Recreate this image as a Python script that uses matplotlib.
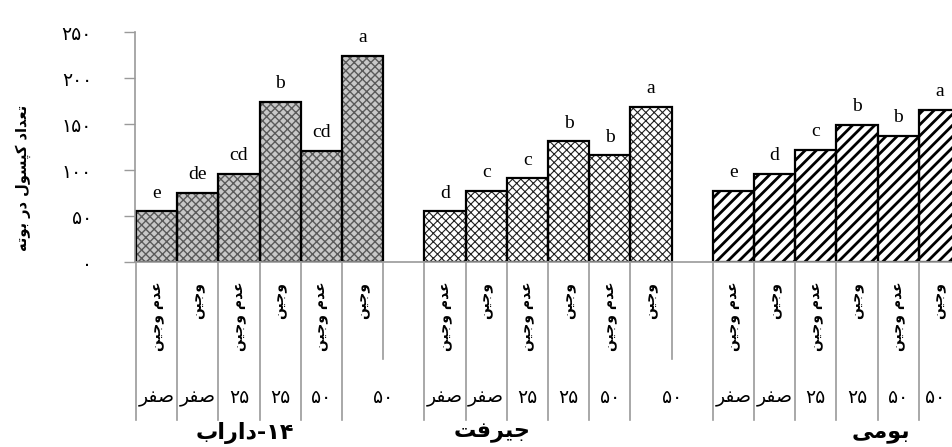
import matplotlib
matplotlib.use("Agg")
import matplotlib.pyplot as plt

# data
cultivars = ["داراب", "جیرفت", "بومی"]
weed_labels = ["عدم وجین", "وجین"] * 3
nitrogen = ["صفر", "صفر", "۲۵", "۲۵", "۵۰", "۵۰"]
darab = [55, 75, 96, 174, 121, 224]
jiroft = [55, 77, 91, 131, 116, 169]
bumi = [77, 96, 122, 149, 137, 165]
letters_darab = ["e", "de", "cd", "b", "cd", "a"]
letters_jiroft = ["d", "c", "c", "b", "b", "a"]
letters_bumi = ["e", "d", "c", "b", "b", "a"]
yticks = [0, 50, 100, 150, 200, 250]
ylabel = "تعداد کپسول در بوته"

# matplotlib has no arabic shaping, so pick presentation forms by hand
FORMS = {
    "ا": ("\uFE8D", "\uFE8E", None, None),
    "ب": ("\uFE8F", "\uFE90", "\uFE91", "\uFE92"),
    "پ": ("\uFB56", "\uFB57", "\uFB58", "\uFB59"),
    "ت": ("\uFE95", "\uFE96", "\uFE97", "\uFE98"),
    "ج": ("\uFE9D", "\uFE9E", "\uFE9F", "\uFEA0"),
    "د": ("\uFEA9", "\uFEAA", None, None),
    "ر": ("\uFEAD", "\uFEAE", None, None),
    "ز": ("\uFEAF", "\uFEB0", None, None),
    "س": ("\uFEB1", "\uFEB2", "\uFEB3", "\uFEB4"),
    "ص": ("\uFEB9", "\uFEBA", "\uFEBB", "\uFEBC"),
    "ع": ("\uFEC9", "\uFECA", "\uFECB", "\uFECC"),
    "ف": ("\uFED1", "\uFED2", "\uFED3", "\uFED4"),
    "ق": ("\uFED5", "\uFED6", "\uFED7", "\uFED8"),
    "ک": ("\uFB8E", "\uFB8F", "\uFB90", "\uFB91"),
    "ل": ("\uFEDD", "\uFEDE", "\uFEDF", "\uFEE0"),
    "م": ("\uFEE1", "\uFEE2", "\uFEE3", "\uFEE4"),
    "ن": ("\uFEE5", "\uFEE6", "\uFEE7", "\uFEE8"),
    "ه": ("\uFEE9", "\uFEEA", "\uFEEB", "\uFEEC"),
    "و": ("\uFEED", "\uFEEE", None, None),
    "ی": ("\uFBFC", "\uFBFD", "\uFBFE", "\uFBFF"),
}


def shape(text):
    # digits are written left to right, so leave those strings alone
    if not any(ch in FORMS for ch in text):
        return text
    out = []
    for i, ch in enumerate(text):
        if ch not in FORMS:
            out.append(ch)
            continue
        prev = text[i - 1] if i > 0 else ""
        nxt = text[i + 1] if i + 1 < len(text) else ""
        jp = prev in FORMS and FORMS[prev][2] is not None
        jn = nxt in FORMS and FORMS[ch][2] is not None
        iso, fin, ini, med = FORMS[ch]
        out.append(med if jp and jn else fin if jp else ini if jn else iso)
    return "".join(reversed(out))


def fa_digits(n):
    return str(n).translate(str.maketrans("0123456789", "۰۱۲۳۴۵۶۷۸۹"))


AR = ["DejaVu Sans"]
GRAY = "#9a9a9a"

fig = plt.figure(figsize=(9.52, 4.47), dpi=100)
ax = fig.add_axes([135 / 952, 1 - 262 / 447, 817 / 952, 230 / 447])

groups = [darab, jiroft, bumi]
letters = [letters_darab, letters_jiroft, letters_bumi]
styles = [
    dict(color="#c8c8c8", edgecolor="#5a5a5a", hatch="xxxx"),
    dict(color="white", edgecolor="#202020", hatch="xxxx"),
    dict(color="white", edgecolor="black", hatch="///"),
]
hatch_lw = [1.0, 0.8, 2.0]

xmin, xmax = -0.025, 19.805
for g, vals in enumerate(groups):
    xs = [g * 7 + j for j in range(len(vals))]
    plt.rcParams["hatch.linewidth"] = hatch_lw[g]
    ax.bar(xs, vals, width=1, align="edge", linewidth=0, **styles[g])
    ax.bar(xs, vals, width=1, align="edge", fill=False, edgecolor="black", linewidth=1.6)
    for x, v, lab in zip(xs, vals, letters[g]):
        ax.annotate(lab, (x + 0.5, v), xytext=(0, 7), textcoords="offset points",
                    ha="center", va="bottom", fontsize=14, family="Liberation Serif")

    # multi level category axis under the bars
    trans = ax.get_xaxis_transform()
    for j, x in enumerate(xs):
        ax.plot([x, x], [0, -0.687], color=GRAY, lw=1.2, transform=trans, clip_on=False)
        ax.text(x + 0.5, -0.085, shape(weed_labels[j]), rotation=90, ha="center", va="top",
                fontsize=10, family=AR, fontweight="bold", transform=trans)
        if j < len(xs) - 1:
            cx = x + 0.5
        else:
            cx = (x + min(x + 2, xmax)) / 2
        ax.text(cx, -0.587, shape(nitrogen[j]), ha="center", va="center",
                fontsize=13.5, family=AR, transform=trans)
    ax.plot([xs[-1] + 1] * 2, [0, -0.422], color=GRAY, lw=1.2, transform=trans, clip_on=False)

trans = ax.get_xaxis_transform()
ax.text(2.63, -0.745, shape(cultivars[0]) + "-۱۴", ha="center", va="center",
        fontsize=16, family=AR, fontweight="bold", transform=trans)
ax.text(8.63, -0.745, shape(cultivars[1]), ha="center", va="center",
        fontsize=16, family=AR, fontweight="bold", transform=trans)
ax.text(18.09, -0.745, shape(cultivars[2]), ha="center", va="center",
        fontsize=16, family=AR, fontweight="bold", transform=trans)

ax.set_xlim(xmin, xmax)
ax.set_ylim(0, 250)
ax.set_yticks(yticks)
ax.set_yticklabels([fa_digits(t) for t in yticks], family=AR, fontsize=13.5)
ax.tick_params(axis="y", length=8, width=1, color=GRAY, pad=23)
ax.set_xticks([])
for side in ["top", "right"]:
    ax.spines[side].set_visible(False)
for side in ["left", "bottom"]:
    ax.spines[side].set_color(GRAY)
    ax.spines[side].set_linewidth(1.2)

fig.text(0.024, 1 - 178 / 447, shape(ylabel), rotation=90, ha="center", va="center",
         fontsize=10.5, family=AR, fontweight="bold")

fig.savefig("out.png", dpi=100)
